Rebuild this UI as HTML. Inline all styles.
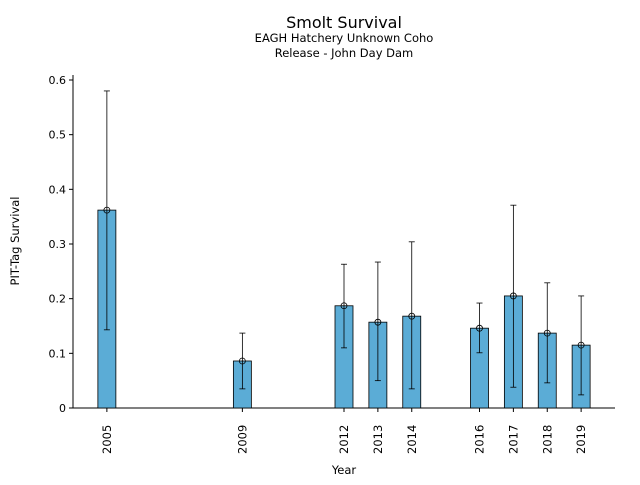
<!DOCTYPE html>
<html><head><meta charset="utf-8"><style>
body{margin:0;background:#fff;}
svg text{font-family:"DejaVu Sans","Liberation Sans",sans-serif;fill:#000;}
</style></head><body>
<svg id="chart" width="640" height="480" xmlns="http://www.w3.org/2000/svg">
<text x="344" y="28" font-size="16" text-anchor="middle">Smolt Survival</text>
<text x="344" y="42" font-size="11.5" text-anchor="middle">EAGH Hatchery Unknown Coho</text>
<text x="344" y="57" font-size="11.5" text-anchor="middle">Release - John Day Dam</text>
<text x="344" y="474" font-size="11.5" text-anchor="middle">Year</text>
<text transform="translate(19,241) rotate(-90)" font-size="11.5" text-anchor="middle">PIT-Tag Survival</text>
<g id="marks"></g>
</svg>
<script>
const years=[2005,2009,2012,2013,2014,2016,2017,2018,2019];
const survival=[0.362,0.086,0.187,0.157,0.168,0.146,0.205,0.137,0.115];
const ciUpper=[0.580,0.137,0.263,0.267,0.304,0.192,0.371,0.229,0.205];
const ciLower=[0.143,0.035,0.110,0.050,0.035,0.101,0.038,0.046,0.024];
const yTicks=[0,0.1,0.2,0.3,0.4,0.5,0.6];
const xMin=2004,xMax=2020,yMax=0.6;
const L=73,R=615,T=80,B=408;
const sx=v=>L+(v-xMin)/(xMax-xMin)*(R-L);
const sy=v=>B-v/yMax*(B-T);
const NS="http://www.w3.org/2000/svg";
const g=document.getElementById('marks');
function mk(tag,attrs){const e=document.createElementNS(NS,tag);for(const k in attrs)e.setAttribute(k,attrs[k]);g.appendChild(e);return e;}
let e=mk('line',{x1:L,y1:B,x2:R,y2:B,stroke:'#000','stroke-width':1});


e=mk('line',{x1:L,y1:T-5,x2:L,y2:B,stroke:'#000','stroke-width':1});


yTicks.forEach(t=>{
 const y=sy(t);
 let tk=mk('line',{x1:L-4,y1:y,x2:L,y2:y,stroke:'#000'});
 
 
 let tx=mk('text',{x:L-7,y:y+4,'font-size':11,'text-anchor':'end'});
 tx.textContent=String(t);
 
 
});
const bw=18;
years.forEach((yr,i)=>{
 const x=sx(yr);
 let b=mk('rect',{x:x-bw/2,y:sy(survival[i]),width:bw,height:B-sy(survival[i]),fill:'#5bacd6',stroke:'#000','stroke-width':0.8});
 
 
 let eb=mk('line',{x1:x,y1:sy(ciUpper[i]),x2:x,y2:sy(ciLower[i]),stroke:'#000','stroke-width':0.8});
 
 
 [ciUpper[i],ciLower[i]].forEach(v=>{
  let c=mk('line',{x1:x-3,y1:sy(v),x2:x+3,y2:sy(v),stroke:'#000','stroke-width':0.8});
  
  
 });
 let p=mk('circle',{cx:x,cy:sy(survival[i]),r:3,fill:'none',stroke:'#000','stroke-width':0.8});
 
 
 let tk=mk('line',{x1:x,y1:B,x2:x,y2:B+4,stroke:'#000'});
 
 
 let tx=mk('text',{transform:`translate(${x+4},${B+46}) rotate(-90)`,'font-size':11.5});
 tx.textContent=String(yr);
 
 
});
</script>
</body></html>
